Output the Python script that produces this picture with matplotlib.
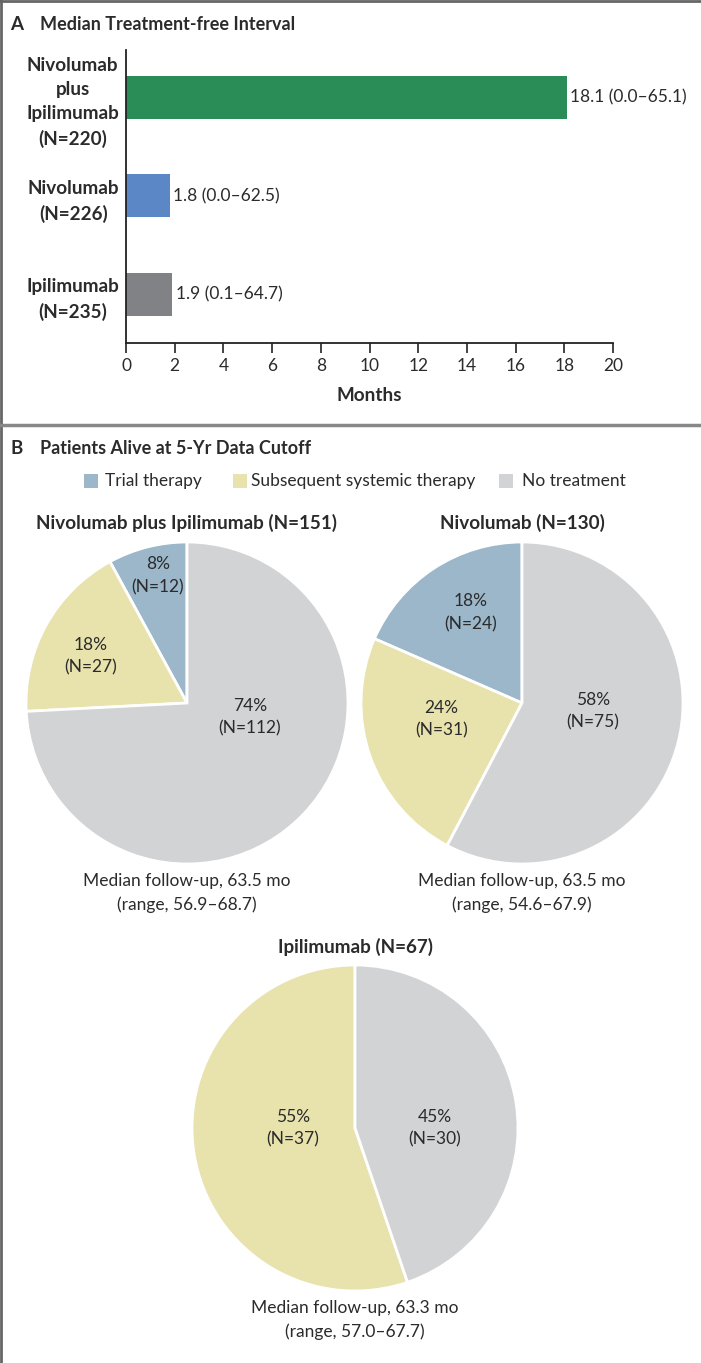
import numpy as np
import matplotlib
matplotlib.use('Agg')
import matplotlib.pyplot as plt
from matplotlib.patches import Rectangle
from matplotlib.lines import Line2D

plt.rcParams['font.family'] = ['Lato', 'DejaVu Sans']

# Panel A data
arms_a = ['Nivolumab\nplus\nIpilimumab\n(N=220)', 'Nivolumab\n(N=226)', 'Ipilimumab\n(N=235)']
median_tfi = [18.1, 1.8, 1.9]
tfi_low = [0.0, 0.0, 0.1]
tfi_high = [65.1, 62.5, 64.7]
bar_colors = ['#2a8c57', '#5b87c6', '#818285']

# Panel B data
categories = ['Trial therapy', 'Subsequent systemic therapy', 'No treatment']
cat_colors = ['#9bb7c9', '#e8e3ad', '#d2d3d5']
pie_titles = ['Nivolumab plus Ipilimumab (N=151)', 'Nivolumab (N=130)', 'Ipilimumab (N=67)']
pie_counts = [[12, 27, 112], [24, 31, 75], [0, 37, 30]]
pie_pcts = [[8, 18, 74], [18, 24, 58], [0, 55, 45]]
followup = ['Median follow-up, 63.5 mo\n(range, 56.9\u201368.7)',
            'Median follow-up, 63.5 mo\n(range, 54.6\u201367.9)',
            'Median follow-up, 63.3 mo\n(range, 57.0\u201367.7)']

W, H = 701, 1363
TXT = '#2b2b2b'
FS = 12.5     # regular text
FSB = 13.6    # bold labels
FST = 13.0    # panel titles

def fx(x):
    return x / W

def fy(y):
    return 1 - y / H

fig = plt.figure(figsize=(W / 100, H / 100), dpi=100)

# frame lines
fig.add_artist(Line2D([0, 1], [fy(1), fy(1)], color='#666666', lw=2))
fig.add_artist(Line2D([fx(1), fx(1)], [0, 1], color='#666666', lw=2))
fig.add_artist(Line2D([0, 1], [fy(425), fy(425)], color='#888888', lw=2.5))

# ---- Panel A ----
fig.text(fx(10), fy(24), 'A', fontsize=13.5, fontweight='bold', color=TXT, va='center')
fig.text(fx(40), fy(24), 'Median Treatment-free Interval', fontsize=FST,
         fontweight='bold', color=TXT, va='center')

ax = fig.add_axes([fx(126), fy(343), (613 - 126) / W, (343 - 50) / H])
ypos = np.arange(len(arms_a))
ax.barh(ypos, median_tfi, height=0.437, color=bar_colors)
for i, v in enumerate(median_tfi):
    ax.text(v + 0.15, ypos[i], f'{v:.1f} ({tfi_low[i]:.1f}\u2013{tfi_high[i]:.1f})',
            va='center', ha='left', fontsize=FS, color=TXT)
ax.set_xlim(0, 20)
ax.set_ylim(2.493, -0.482)
ax.set_xticks(np.arange(0, 21, 2))
ax.set_yticks(ypos)
ax.set_yticklabels(arms_a, fontweight='bold', fontsize=FSB, color=TXT,
                   linespacing=1.5)
for lab in ax.get_yticklabels():
    lab.set_multialignment('center')
ax.tick_params(axis='y', length=0, pad=5)
ax.tick_params(axis='x', direction='out', length=7, width=1.2, color='#222222',
               labelsize=FS, labelcolor=TXT, pad=4)
for s in ['top', 'right']:
    ax.spines[s].set_visible(False)
for s in ['left', 'bottom']:
    ax.spines[s].set_color('#222222')
    ax.spines[s].set_linewidth(1.3)
ax.set_xlabel('Months', fontsize=FSB, fontweight='bold', color=TXT, labelpad=9)

# ---- Panel B ----
fig.text(fx(10), fy(448), 'B', fontsize=13.5, fontweight='bold', color=TXT, va='center')
fig.text(fx(40), fy(448), 'Patients Alive at 5-Yr Data Cutoff', fontsize=FST,
         fontweight='bold', color=TXT, va='center')

# legend (squares + labels)
leg_sq_x = [84, 233, 499]
leg_tx_x = [105, 251, 522]
leg_y = 481
for c, lab, sx, tx in zip(cat_colors, categories, leg_sq_x, leg_tx_x):
    fig.add_artist(Rectangle((fx(sx), fy(leg_y + 7)), 14 / W, 14 / H,
                             facecolor=c, edgecolor='none'))
    fig.text(fx(tx), fy(leg_y), lab, ha='left', va='center', fontsize=FS, color=TXT)

# pie centres (px), radius, title y, inner label positions (relative to radius)
centres = [(187, 703, 161), (522, 703, 161), (355, 1128, 163)]
title_y = [523, 523, 947]
foot_y = [893, 893, 1320]
label_pos = [[(-0.18, 0.79), (-0.60, 0.29), (0.39, -0.09)],
             [(-0.32, 0.56), (-0.50, -0.10), (0.44, -0.05)],
             [None, (-0.38, 0.0), (0.49, 0.0)]]

lim = 1.06
for k in range(3):
    cx, cy, r = centres[k]
    size = 2 * r * lim
    pax = fig.add_axes([fx(cx - r * lim), fy(cy + r * lim), size / W, size / H])
    vals = [v for v in pie_counts[k] if v > 0]
    cols = [c for v, c in zip(pie_counts[k], cat_colors) if v > 0]
    pax.pie(vals, colors=cols, startangle=90, counterclock=True, radius=1,
            wedgeprops=dict(edgecolor='white', linewidth=2))
    pax.set_xlim(-lim, lim)
    pax.set_ylim(-lim, lim)
    pax.set_aspect('equal')
    pax.axis('off')
    for j in range(3):
        if pie_counts[k][j] == 0:
            continue
        lx, ly = label_pos[k][j]
        pax.text(lx, ly, f'{pie_pcts[k][j]}%\n(N={pie_counts[k][j]})', ha='center',
                 va='center', fontsize=FS, color=TXT, linespacing=1.5)
    fig.text(fx(cx), fy(title_y[k]), pie_titles[k], ha='center', va='center',
             fontsize=FSB, fontweight='bold', color=TXT)
    fig.text(fx(cx), fy(foot_y[k]), followup[k], ha='center', va='center',
             fontsize=FS, color=TXT, linespacing=1.55)

fig.savefig('out.png', dpi=100)
